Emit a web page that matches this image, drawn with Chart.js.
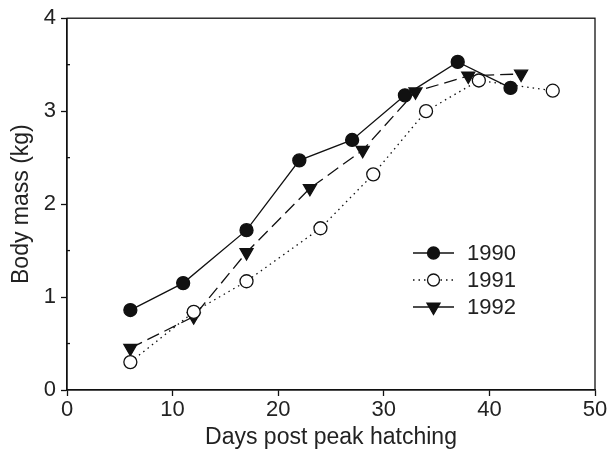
<!DOCTYPE html>
<html>
<head>
<meta charset="utf-8">
<script src="https://cdn.jsdelivr.net/npm/chart.js@4.4.0/dist/chart.umd.min.js"></script>
<style>
  html, body { margin: 0; padding: 0; background: #fff; }
  canvas { display: block; }
</style>
</head>
<body>
<canvas id="grafico" width="615" height="449"></canvas>
<script>
// Datos
const dias1990 = [6, 11, 17, 22, 27, 32, 37, 42];
const masa1990 = [0.86, 1.15, 1.72, 2.47, 2.69, 3.17, 3.53, 3.25];

const dias1991 = [6, 12, 17, 24, 29, 34, 39, 46];
const masa1991 = [0.30, 0.84, 1.17, 1.74, 2.32, 3.00, 3.33, 3.22];

const dias1992 = [6, 12, 17, 23, 28, 33, 38, 43];
const masa1992 = [0.45, 0.79, 1.48, 2.17, 2.58, 3.21, 3.38, 3.40];

const etiquetasSeries = ['1990', '1991', '1992'];
const ticksX = [0, 10, 20, 30, 40, 50];
const ticksY = [0, 1, 2, 3, 4];
const ticksYMenores = [0.5, 1.5, 2.5, 3.5];

const FUENTE = '"Liberation Sans", Arial, sans-serif';
const TAM = 22;
const TAM_TITULO = 23;

function puntos(xs, ys) {
    return xs.map((x, i) => ({ x: x, y: ys[i] }));
}

const estilos = [
    { dash: [], legendDash: [], pointStyle: 'circle', fill: '#111', radius: 6.5, rotation: 0 },
    { dash: [1.5, 4], legendDash: [1.5, 4], pointStyle: 'circle', fill: '#fff', radius: 6.5, rotation: 0 },
    { dash: [13, 6], legendDash: [], pointStyle: 'triangle', fill: '#111', radius: 7.5, rotation: 180 }
];

const datasets = [
    puntos(dias1990, masa1990),
    puntos(dias1991, masa1991),
    puntos(dias1992, masa1992)
].map((d, i) => ({
    label: etiquetasSeries[i],
    data: d,
    showLine: true,
    borderColor: '#111',
    borderWidth: 1.3,
    borderDash: estilos[i].dash,
    pointStyle: estilos[i].pointStyle,
    pointRotation: estilos[i].rotation,
    pointRadius: estilos[i].radius,
    pointBackgroundColor: estilos[i].fill,
    pointBorderColor: '#111',
    pointBorderWidth: 1.3,
    tension: 0
}));

// Marco, ticks menores del eje Y y leyenda dentro del área
const marcoYLeyenda = {
    id: 'marcoYLeyenda',
    afterDraw(chart) {
        const ctx = chart.ctx;
        const a = chart.chartArea;
        const escalaY = chart.scales.y;
        ctx.save();
        ctx.strokeStyle = '#111';
        ctx.lineWidth = 1.3;
        ctx.strokeRect(a.left, a.top, a.right - a.left, a.bottom - a.top);

        ticksYMenores.forEach(v => {
            const y = escalaY.getPixelForValue(v);
            ctx.beginPath();
            ctx.moveTo(a.left, y);
            ctx.lineTo(a.left + 3, y);
            ctx.stroke();
        });

        // leyenda
        const x0 = 413, x1 = 454, yBase = 253, paso = 27;
        chart.data.datasets.forEach((ds, i) => {
            const y = yBase + i * paso;
            const cx = (x0 + x1) / 2;
            ctx.beginPath();
            ctx.setLineDash(estilos[i].legendDash);
            ctx.lineWidth = 1.3;
            ctx.strokeStyle = '#111';
            ctx.moveTo(x0, y);
            ctx.lineTo(x1, y);
            ctx.stroke();
            ctx.setLineDash([]);
            ctx.fillStyle = ds.pointBackgroundColor;
            ctx.beginPath();
            if (ds.pointStyle === 'circle') {
                ctx.arc(cx, y, ds.pointRadius - 0.5, 0, Math.PI * 2);
            } else {
                const r = ds.pointRadius;
                ctx.moveTo(cx - r * 0.87, y - r * 0.5);
                ctx.lineTo(cx + r * 0.87, y - r * 0.5);
                ctx.lineTo(cx, y + r);
                ctx.closePath();
            }
            ctx.fill();
            ctx.stroke();
            ctx.fillStyle = '#222';
            ctx.font = TAM + 'px ' + FUENTE;
            ctx.textBaseline = 'middle';
            ctx.textAlign = 'left';
            ctx.fillText(ds.label, 467, y + 1);
        });
        ctx.restore();
    }
};

new Chart(document.getElementById('grafico'), {
    type: 'scatter',
    data: { datasets: datasets },
    options: {
        responsive: false,
        animation: false,
        layout: { padding: { left: 0, right: 20, top: 17, bottom: 0 } },
        plugins: {
            legend: { display: false },
            tooltip: { enabled: false }
        },
        scales: {
            x: {
                type: 'linear',
                min: 0,
                max: 50,
                afterBuildTicks(scale) {
                    scale.ticks = ticksX.map(v => ({ value: v }));
                },
                afterFit(scale) { scale.height = 59; },
                ticks: {
                    color: '#222',
                    font: { family: FUENTE, size: TAM, lineHeight: 1.0 },
                    padding: 3,
                    maxRotation: 0
                },
                grid: {
                    drawOnChartArea: false,
                    drawTicks: true,
                    tickLength: 6,
                    tickColor: '#111',
                    tickWidth: 1.3
                },
                border: { color: '#111', width: 1.3 },
                title: {
                    display: true,
                    text: 'Days post peak hatching',
                    color: '#222',
                    font: { family: FUENTE, size: TAM_TITULO, lineHeight: 1.0 },
                    padding: { top: 2, bottom: 0 }
                }
            },
            y: {
                type: 'linear',
                min: 0,
                max: 4,
                afterBuildTicks(scale) {
                    scale.ticks = ticksY.map(v => ({ value: v }));
                },
                afterFit(scale) { scale.width = 67; },
                ticks: {
                    color: '#222',
                    font: { family: FUENTE, size: TAM },
                    padding: 5
                },
                grid: {
                    drawOnChartArea: false,
                    drawTicks: true,
                    tickLength: 6,
                    tickColor: '#111',
                    tickWidth: 1.3
                },
                border: { color: '#111', width: 1.3 },
                title: {
                    display: true,
                    text: 'Body mass (kg)',
                    color: '#222',
                    font: { family: FUENTE, size: TAM_TITULO, lineHeight: 1.0 },
                    padding: { top: 10, bottom: 0 }
                }
            }
        }
    },
    plugins: [marcoYLeyenda]
});
</script>
</body>
</html>
